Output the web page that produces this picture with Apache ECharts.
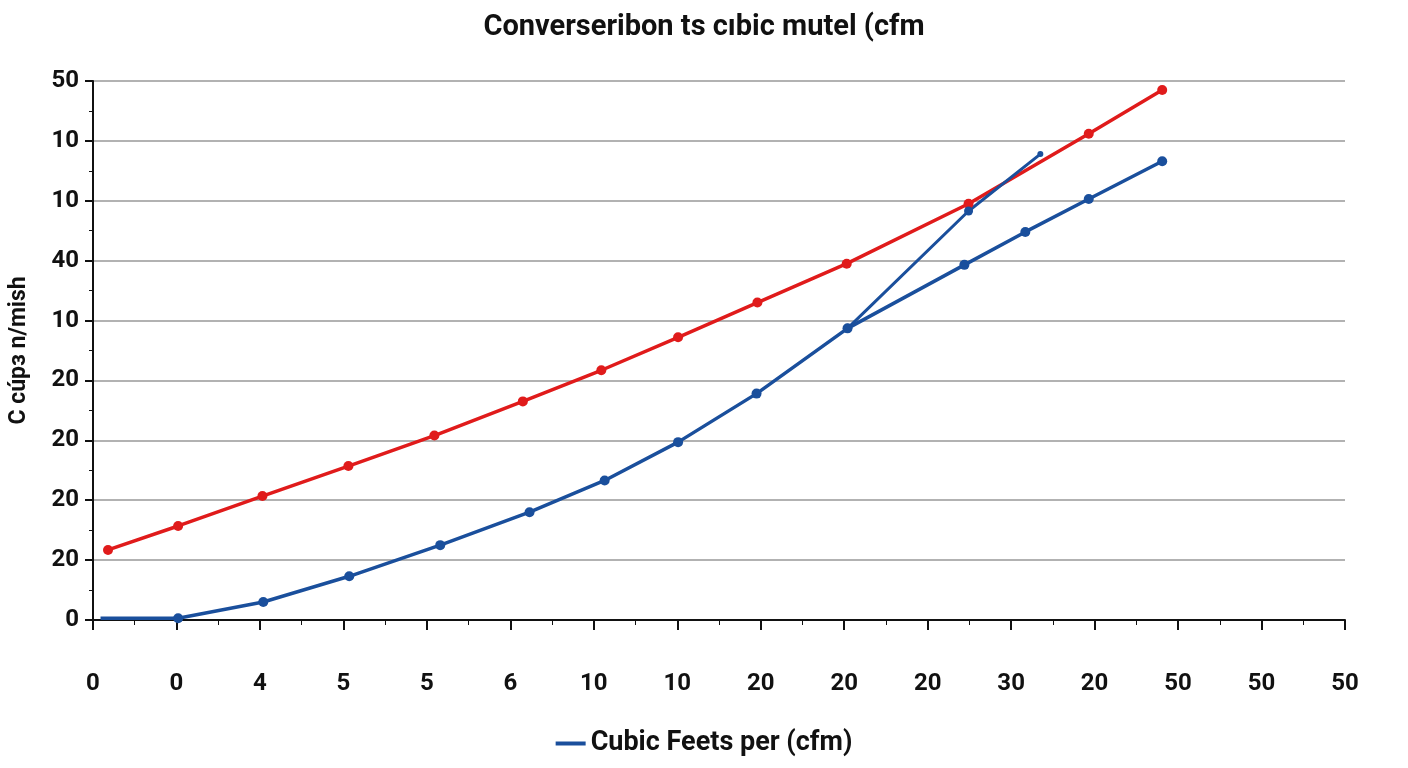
<!DOCTYPE html>
<html><head><meta charset="utf-8">
<script src="https://cdn.jsdelivr.net/npm/echarts@6/dist/echarts.min.js"></script>
<style>html,body{margin:0;padding:0;background:#fff}#c{width:1408px;height:768px}</style>
</head><body><div id="c"></div>
<script>
const xTickLabels = ['0','0','4','5','5','6','10','10','20','20','20','30','20','50','50','50'];
const yTickLabels = ['0','20','20','20','20','10','40','10','10','50'];
const redSeries = [[0.18,1.17],[1.02,1.57],[2.03,2.07],[3.06,2.57],[4.09,3.08],[5.15,3.65],[6.09,4.17],[7.01,4.72],[7.96,5.3],[9.03,5.95],[10.49,6.95],[11.93,8.12],[12.81,8.85]];
const blueSeries = [[0.09,0.03],[1.02,0.03],[2.04,0.3],[3.07,0.73],[4.16,1.25],[5.23,1.8],[6.13,2.33],[7.01,2.97],[7.95,3.78],[9.04,4.87],[10.44,5.93],[11.17,6.48],[11.93,7.03],[12.81,7.66]];
const blueBranch = [[9.04,4.87],[10.49,6.83],[11.35,7.78]];
const titleText = 'Converseribon ts cıbic mutel (cfm';
const yName = 'C cúpз n/mish';
const legendName = 'Cubic Feets per (cfm)';
const font = 'Roboto';
const chart = echarts.init(document.getElementById('c'));
chart.setOption({
  animation:false,
  title:{text:titleText,left:'center',top:8,textStyle:{fontFamily:font,fontSize:29,fontWeight:'bold',color:'#111'}},
  legend:{bottom:6,left:'center',data:[{name:legendName,icon:'rect'}],itemWidth:30,itemHeight:4,textStyle:{fontFamily:font,fontSize:27,fontWeight:'bold',color:'#111'}},
  grid:{left:80,right:63,top:81,bottom:148},
  xAxis:{type:'value',min:0,max:15,interval:1,
    axisLine:{lineStyle:{color:'#111',width:2}},axisTick:{show:true,length:10,lineStyle:{color:'#111',width:2}},
    minorTick:{show:true,splitNumber:2,length:5,lineStyle:{color:'#111'}},
    splitLine:{show:false},
    axisLabel:{margin:52,fontFamily:font,fontSize:24,fontWeight:'bold',color:'#111',formatter:v=>xTickLabels[Math.round(v)]}},
  yAxis:{type:'value',min:0,max:9,interval:1,name:yName,nameLocation:'middle',nameGap:62,
    nameTextStyle:{fontFamily:font,fontSize:23,fontWeight:'bold',color:'#111'},
    axisLine:{show:true,lineStyle:{color:'#111',width:2}},axisTick:{show:true,length:8,lineStyle:{color:'#111',width:2}},
    minorTick:{show:true,splitNumber:2,length:4,lineStyle:{color:'#111'}},
    splitLine:{lineStyle:{color:'#999',width:1.5}},
    axisLabel:{fontFamily:font,fontSize:24,fontWeight:'bold',color:'#111',margin:14,formatter:v=>yTickLabels[Math.round(v)]}},
  series:[
    {name:'red',type:'line',data:redSeries,symbol:'circle',symbolSize:10,lineStyle:{color:'#e01b1b',width:3.5},itemStyle:{color:'#e01b1b'}},
    {name:legendName,type:'line',data:blueSeries.map((d,i)=>i===0?{value:d,symbolSize:0}:d),symbol:'circle',symbolSize:10,lineStyle:{color:'#1a4f9c',width:3.5},itemStyle:{color:'#1a4f9c'}},
    {name:'branch',type:'line',data:blueBranch.map((d,i)=>i===2?{value:d,symbolSize:6}:d),symbol:'circle',symbolSize:9,lineStyle:{color:'#1a4f9c',width:3},itemStyle:{color:'#1a4f9c'}}
  ]
});
</script></body></html>
